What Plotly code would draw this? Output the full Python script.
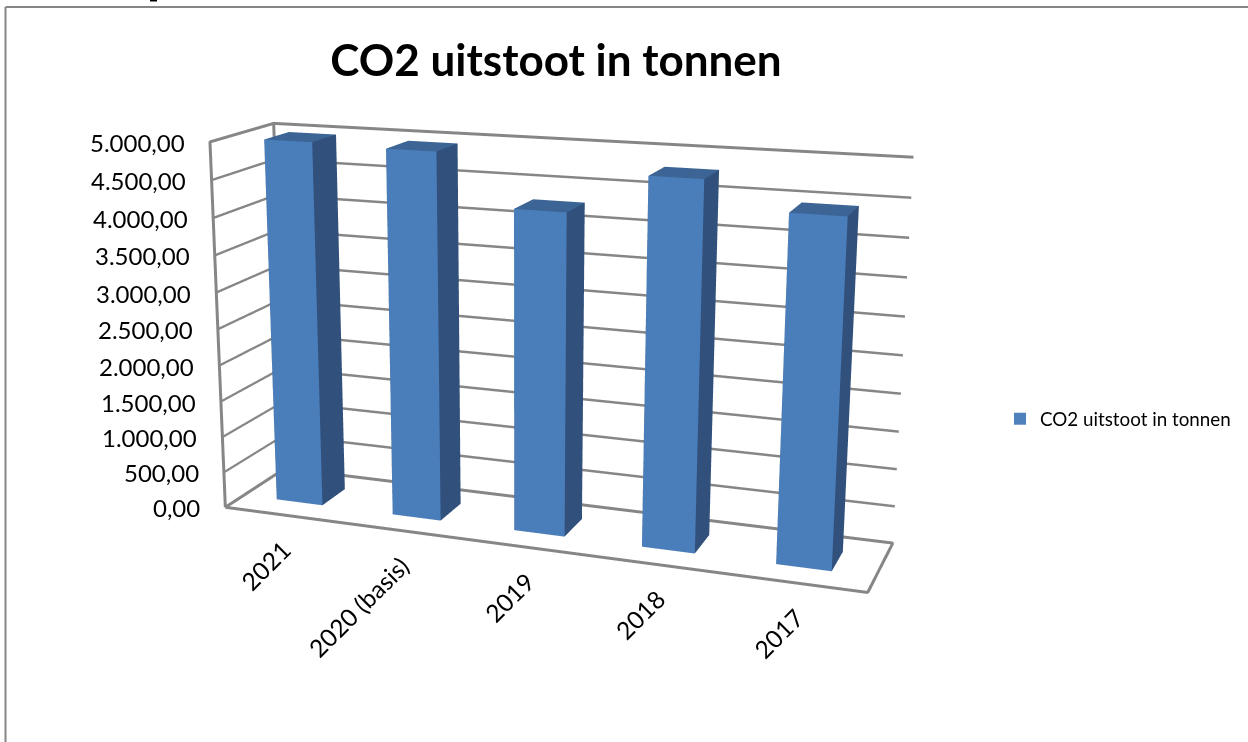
import numpy as np
import plotly.graph_objects as go

categories = ["2021", "2020 (basis)", "2019", "2018", "2017"]
values = [4980, 4950, 4280, 4800, 4457]
z_ticks = [0, 500, 1000, 1500, 2000, 2500, 3000, 3500, 4000, 4500, 5000]
z_labels = ["0,00", "500,00", "1.000,00", "1.500,00", "2.000,00", "2.500,00",
            "3.000,00", "3.500,00", "4.000,00", "4.500,00", "5.000,00"]
series_name = "CO2 uitstoot in tonnen"

# The reference has a long-lens perspective, so the scene is laid out taller
# than the window and the page is shifted up to frame it.
FIG_W, FIG_H, TOP_SHIFT = 1248, 1580, 439
SCENE_W = 978.65
def px(x): return x / FIG_W
def py(y): return 1 - (y + TOP_SHIFT) / FIG_H

eye = np.array([0.8997, -2.5771, 0.7134])
yaw, pitch, roll = -0.3689, -0.2604, -0.0043
ASPECT_Y, ASPECT_Z = 0.2047, 0.5732
fw = np.array([np.sin(yaw) * np.cos(pitch), np.cos(yaw) * np.cos(pitch), np.sin(pitch)])
r0 = np.cross(fw, [0, 0, 1.0]); r0 /= np.linalg.norm(r0)
u0 = np.cross(r0, fw)
up = -np.sin(roll) * r0 + np.cos(roll) * u0
center = eye + fw * np.linalg.norm(eye)

BAR_W, BAR_POS, DEPTH0, DEPTH1 = 0.40, 0.49, 0.3, 0.7
FRONT, SIDE, TOP = "#4a7ebb", "#31507c", "#3c6595"
GRID = "#868686"
FONT = "Lato"

fig = go.Figure()
for idx, v in enumerate(values):
    x0, x1 = idx + BAR_POS - BAR_W / 2, idx + BAR_POS + BAR_W / 2
    fig.add_trace(go.Mesh3d(
        x=[x0, x1, x1, x0, x0, x1, x1, x0],
        y=[DEPTH0, DEPTH0, DEPTH1, DEPTH1] * 2,
        z=[0] * 4 + [v] * 4,
        i=[0, 0, 1, 1, 4, 4, 3, 3, 0, 0, 2, 2],
        j=[1, 5, 2, 6, 5, 6, 0, 4, 1, 2, 3, 7],
        k=[5, 4, 6, 5, 6, 7, 4, 7, 2, 3, 7, 6],
        facecolor=[FRONT] * 2 + [SIDE] * 2 + [TOP] * 2 + [SIDE] * 6,
        flatshading=True,
        lighting=dict(ambient=1, diffuse=0, specular=0, fresnel=0, roughness=1),
        hoverinfo="x+z", showscale=False, showlegend=False, name=categories[idx]))

n = len(categories); zmax = z_ticks[-1]
fig.add_trace(go.Scatter3d(
    x=[0, 0, 0, 0, None, 0, n, n, 0, 0, None, 0, n],
    y=[1, 1, 0, 0, None, 0, 0, 1, 1, 0, None, 1, 1],
    z=[0, zmax, zmax, 0, None, 0, 0, 0, 0, 0, None, zmax, zmax],
    mode="lines", line=dict(color=GRID, width=6), hoverinfo="skip", showlegend=False))

fig.add_trace(go.Scatter(x=[None], y=[None], mode="markers", name=series_name,
                         marker=dict(symbol="square", size=12, color="#4f81bd"), showlegend=True))

ann = []
for t, lab in zip(z_ticks, z_labels):
    ann.append(dict(x=0, y=0, z=t, text=lab, showarrow=False, xanchor="right", yanchor="middle",
                    xshift=-23, yshift=-0.5, font=dict(family=FONT, size=24, color="black")))
for idx, lab in enumerate(categories):
    ann.append(dict(x=idx + 0.5, y=0, z=0, text=lab, showarrow=False, textangle=-45, xanchor="right",
                    yanchor="top", yshift=-17, xshift=16, font=dict(family=FONT, size=24.5, color="black")))

noax = dict(showbackground=False, showticklabels=False, title="", showspikes=False, zeroline=False, showline=False)
shapes = [dict(type="line", xref="paper", yref="paper", x0=px(5.5), x1=1, y0=py(7), y1=py(7), line=dict(color=GRID, width=2)),
          dict(type="line", xref="paper", yref="paper", x0=px(5.5), x1=px(5.5), y0=py(7), y1=py(800), line=dict(color=GRID, width=2)),
          dict(type="line", xref="paper", yref="paper", x0=px(150), x1=px(157), y0=py(0.5), y1=py(0.5), line=dict(color="black", width=2))]

fig.update_layout(
    width=FIG_W, height=FIG_H, margin=dict(l=0, r=0, t=0, b=0), paper_bgcolor="white", plot_bgcolor="white",
    font=dict(family=FONT),
    title=dict(text="<b>CO2 uitstoot in tonnen</b>", x=px(556), xanchor="center", y=py(61), yanchor="middle",
               font=dict(family=FONT, size=44, color="black")),
    xaxis=dict(visible=False), yaxis=dict(visible=False),
    showlegend=True,
    legend=dict(x=px(1000), y=py(419), xanchor="left", yanchor="middle", font=dict(family=FONT, size=18.8, color="black"), bgcolor="rgba(0,0,0,0)"),
    shapes=shapes,
    scene=dict(
        domain=dict(x=[0, SCENE_W / FIG_W], y=[0, 1]),
        aspectmode="manual", aspectratio=dict(x=1, y=ASPECT_Y, z=ASPECT_Z),
        camera=dict(eye=dict(zip("xyz", map(float, eye))), center=dict(zip("xyz", map(float, center))), up=dict(zip("xyz", map(float, up)))),
        xaxis=dict(range=[0, n], showgrid=False, **noax),
        yaxis=dict(range=[0, 1], showgrid=False, **noax),
        zaxis=dict(range=[0, zmax], tickvals=z_ticks, showgrid=True, gridcolor=GRID, gridwidth=5, **noax),
        annotations=ann,
    ),
)
fig.write_html("out.html", config={"displayModeBar": False},
               post_script="document.documentElement.style.overflow='hidden';document.body.style.margin='-%dpx 0 0 0';" % TOP_SHIFT)
